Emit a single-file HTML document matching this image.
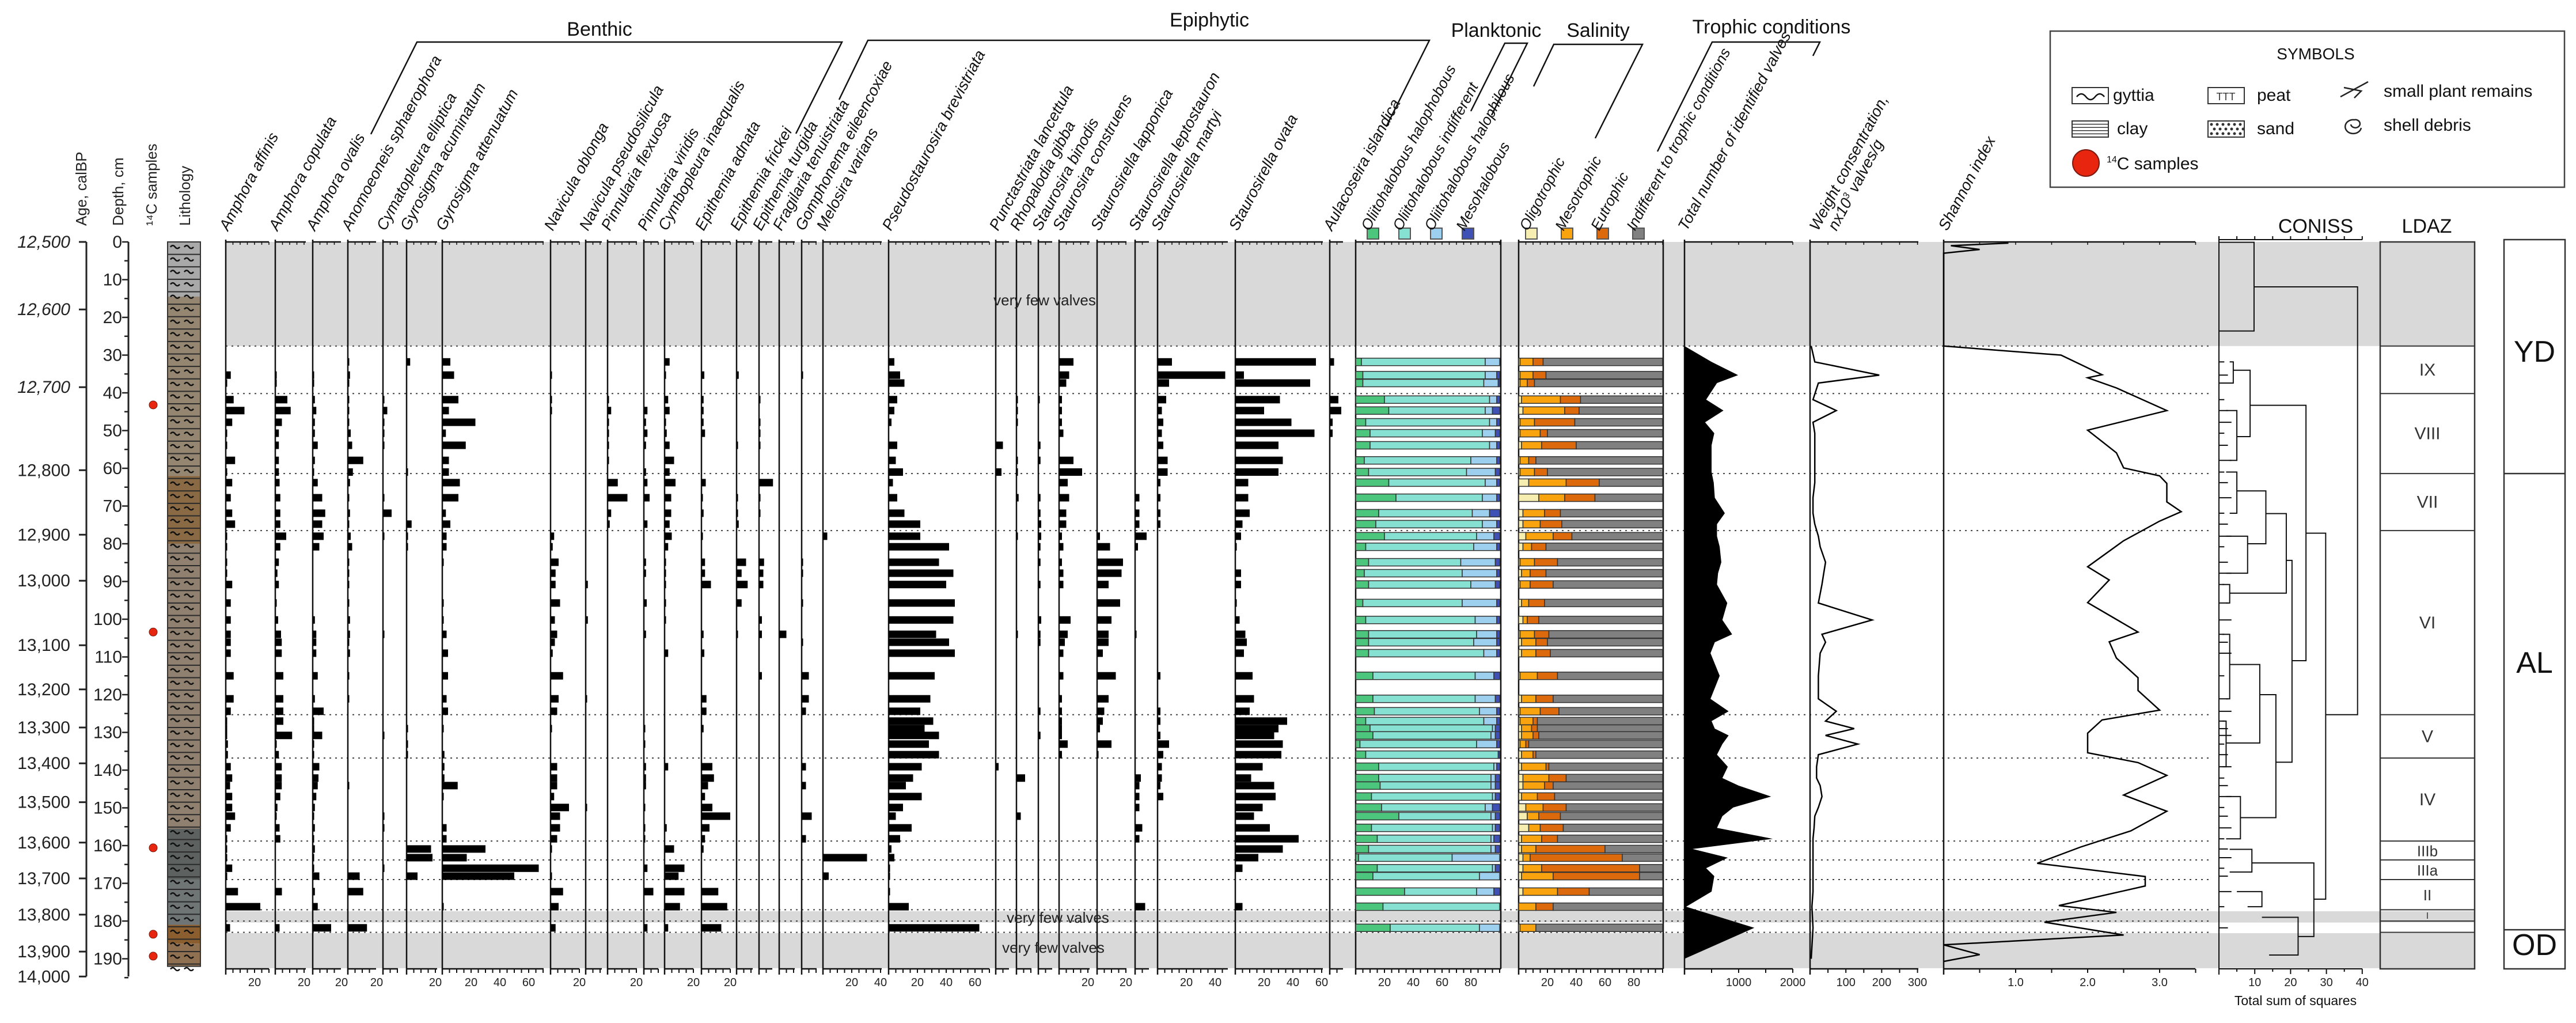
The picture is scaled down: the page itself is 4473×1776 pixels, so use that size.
<!DOCTYPE html>
<html><head><meta charset="utf-8"><title>Diatom diagram</title>
<style>
html,body{margin:0;padding:0;background:#fff;}
svg{display:block;font-family:"Liberation Sans",sans-serif;}
</style></head>
<body>
<svg id="chart" width="4473" height="1776" viewBox="0 0 4473 1776" xmlns="http://www.w3.org/2000/svg"></svg>
<script>
// ---------- DATA ----------
const sampleDepths=[31.8,35.3,37.4,41.8,44.7,47.8,50.7,53.9,57.9,61.0,63.8,67.8,71.9,74.8,78.0,80.8,84.9,87.8,90.8,95.7,100.2,104.0,106.1,109.0,115.0,121.1,124.4,127.0,129.0,130.8,133.1,135.9,139.1,142.1,144.1,147.0,149.9,152.2,155.3,158.2,160.9,163.2,166.0,168.1,172.2,176.2,181.8];
const taxaNames=["Amphora affinis","Amphora copulata","Amphora ovalis","Anomoeoneis sphaerophora","Cymatopleura elliptica","Gyrosigma acuminatum","Gyrosigma attenuatum","Navicula oblonga","Navicula pseudosilicula","Pinnularia flexuosa","Pinnularia viridis","Cymbopleura inaequalis","Epithemia adnata","Epithemia frickei","Epithemia turgida","Fragilaria tenuistriata","Gomphonema eileencoxiae","Melosira varians","Pseudostaurosira brevistriata","Punctastriata lancettula","Rhopalodia gibba","Staurosira binodis","Staurosira construens","Staurosirella lapponica","Staurosirella leptostauron","Staurosirella martyi","Staurosirella ovata","Aulacoseira islandica"];
const taxaTicks=[[20],[20],[20],[20],[],[20],[20,40,60],[20],[],[20],[],[20],[20],[],[],[],[],[20,40],[20,40,60],[],[],[],[20],[20],[],[20,40],[20,40,60],[]];
const vAffinis=[0,3.5,1,5.5,13,4.5,1,1,6.5,1,4.5,3.5,4.5,6.5,1,1,1,1,4.5,3.5,3.5,3.5,3.5,3.5,5.5,5.5,3.5,1,1,1,1.5,1.5,3.5,4.5,3,4.5,4.5,6.5,3.5,1,1,1,4.5,1,8.5,24,3];
const vCopulata=[0,0.5,1,8.4,10.7,4.6,2.5,2.5,2.5,2.5,3,3.5,3.5,3.5,7.6,3.5,2.5,1.5,2.5,0.5,2,4,4.5,4.5,5.6,5.6,5.6,5.6,1,11.7,1,2.5,4.5,4.5,4.5,3.5,1.5,0.5,3,3.5,0,0,0,0,4.6,0,3];
const vOvalis=[0,1,0.5,1.5,2.5,1.5,1.5,3.5,1.5,0.5,3.5,6.6,8.7,6.6,7.6,4.6,0,0,0,0,1.5,2.5,2.5,2.5,3.5,1.5,7.6,1,0.5,6.6,0.5,0.5,4.6,4,3.5,2.5,1.5,0.5,1.5,0.5,1.5,0.5,0.5,4.6,1.5,3.5,12.8];
const vAnomoeoneis=[1,1.5,0.5,1,0.5,1,2,3,10.7,3.5,1.5,1,1.5,0.5,2,3,0.5,0.5,0.5,0.5,1.5,1.5,1,1.5,0.5,0.5,0,0,0,0,0,0,0,0,1,0,0,0,0,0,0,0,0,8.2,10.7,0,13.3];
const vCymatopleura=[0,0,0,0.5,3,0.5,0.5,0.5,0,0,0,1,6,0,1,0,0,0,0,0,0,1,0,0,0,0,0,0,0,0.8,0,0,0,0,0,0,0,1,1,0,0,0,1,0,0,0,0];
const vGyrAcum=[2.5,0,0,0,0,0,0,0,0,1,0,0,0,3.5,1,1,0,0,0,0,0,0,0,0,0,0,0,0,1,0,1,1,0,0,0,0,0,0,0,0,17,18,0,7.6,0,0,0];
const vGyrAtten=[5.6,8.2,0,11.2,4.6,23,2.5,16.3,4.6,4.6,12.2,11.2,2.5,5.6,3,3,1,0,0,1,1,3,0,4,4,3,4,0,1,0,0,1.5,1.5,1.5,10.7,1,0,0,3,3,30,17,67,50,0,1,0];
const vNavOblonga=[0,1,0,1,1,0,0,0,0,0,0,0,0,0,2.5,1.5,5.6,3.5,3.5,6.6,3,4.6,3,1.5,8.7,5.6,4.6,0,1,0,0,0,4.6,4.6,4.6,2.5,12.8,6.6,6.6,4.6,1,0,0,1,8.7,5.6,3.5];
const vNavPseudo=[0,0,0,0,0,0,0,0,0,0,0,0,0,0,0,0,0,0,1.5,0,1.5,0,0,0,0,1,0,0,0,0,0,0,0,0,0,0,1,0,0,0,0,0,0,0,0,0,0];
const vPinFlex=[0,0,0,1,2.5,1,1,1,1,0,7.1,13.8,2.5,1.5,0,0,0,0,0,0,0,0,0,0,0,0,0,0,0,0,0,0,0,0,0,0,0,0,0,0,0,0,0,0,0,0,0];
const vPinViridis=[0,0,0,0,2.5,1.5,2.5,1.5,0,1.5,2.5,4,0,2.5,0,0,1.5,1.5,0,2,0,1.5,0,0,0,0,0,0,1,0,1,0,1.5,1.5,1.5,0,1,0,1,1,0,0,2.5,0,6.6,0,2.5];
const vCymbopleura=[3.5,1,0,2.5,3.5,1,1.5,3.5,6.6,3.5,7.6,4.6,4.6,3.5,5,2.5,1,1,1,1,1,0,0,2.5,0,0,0,0,0,0,0,0,2.5,0,0,0,0,0,1.5,0,6.6,0,13.8,9.7,13.8,10.7,2.5];
const vEpiAdnata=[0,2,0,1.5,1.5,1.5,2.5,0,0,0,3,1,1.5,0,1,0,2.5,2.5,6.6,0,0,1.5,0,2,0,3.5,3.5,0,1.5,0,0,0,7.6,8.7,4.6,2.5,7.6,20,5.6,2.5,1.5,0,0,0,11.7,17.9,13.8];
const vEpiFrickei=[0,1.5,0,0,0,0,0,1,0,0,0,1,1,1.5,0,0,6.6,3.5,7.7,3.5,0,1,0,0,0,0,0,0,0,0,0,0,0,0,0,0,0,0,0,0,0,0,0,0,0,0,0];
const vEpiTurgida=[0,0,0,1,0,1,1,1,0,0,9.7,1,1,0,0,0,3.5,3,3,0,2,2,0,0,2,0,0,0,0,0,0,0,0,0,0,0,0,0,0,0,0,0,0,0,0,0,0];
const vFragilaria=[0,0,0,0,0,0,0,0,0,0,0,0,0,0,0,0,0,0,0,0,0,5,0,0,0,0,0,0,0,0,0,0,0,0,0,0,0,0,0,0,0,0,0,0,0,0,0];
const vGomphonema=[0,1,0,0,0,0,0,0,0,0,0,0,0,0,0,0,1,1,0,1,0,0,1,0,5,5,3,0,0,0,0,0,3,0,3,0,0,7,0,3,0,0,0,0,0,0,0];
const vMelosira=[0,0,0,0,0,0,0,0,0,0,0,0,0,0,3,0,0,0,0,0,0,0,0,0,0,0,0,0,0,0,0,0,0,0,0,0,0,0,0,0,0,30.6,0,4,0,0,0];
const vPseudostaurosira=[4,8,11,6,4,2,0,6,5,10,3,6,11,22,22,42,35,45,40,46,45,33,42,46,32,29,22,31,25,35,28,35,23,17,12,23,10,5,16,8,2,4,1,1,1,14,63];
const vPunctastriata=[0,0,0,0,0,0,0,5,0,4,0,0,0,0,0,0,0,0,0,0,0,0,0,0,0,0,0,0,0,0,0,0,2,0,0,0,0,0,0,0,0,0,0,0,0,0,0];
const vRhopalodia=[0,0,0,1,1,1,0,0,1,1,0,1.5,0,0,1,0,0,0,0,0,0,1,0,0,0,0,0,0,0,0,0,0,0,6,0,0,0,3,0,0,0,0,0,0,0,0,0];
const vStBinodis=[0,0,0,1,0,0,0,1.5,1.5,0,0,1.5,1.5,2,2,1.5,1.5,0,1.5,0,2,1.5,1.5,0,0,0,1.5,0,0,1.5,0,0,0,0,0,0,0,0,0,0,0,0,0,0,0,0,0];
const vStConstruens=[10,7,5,2,2,2,3,0,10,16,6,7,5,5,2,3,2,3,3,0,8,6,4,3,3,2,2,2,2,2,6,2,0,0,0,0,0,0,0,0,0,0,0,0,0,0,0];
const vStlLapponica=[0,0,0,0,0,0,0,0,0,0,0,0,0,0,2,9,18,17,8,16,10,8,8,4,13,8,5,4,2,0,10,1,0,0,0,0,0,0,0,0,0,0,0,0,0,0,0];
const vStlLepto=[0,0,0,0,0,0,0,0,0,0,0,3,3,3,8,2,0,0,0,0,0,1,0,0,0,0,0,0,0,0,0,0,0,4,3,3,3,0,5,3,0,0,0,0,0,7,0];
const vStlMartyi=[10,47,8,6,3,4,3,4,7,7,2,2,2,2,0,0,0,0,0,0,0,0,0,0,2,0,2,2,0,2,8,4,3,3,2,4,0,0,0,0,0,0,0,0,0,0,0];
const vStlOvata=[56,6,52,31,20,39,55,30,33,30,9,9,10,5,4,1,0,4,4,1,3,7,8,6,12,13,10,36,30,27,33,32,19,11,27,28,19,13,24,44,33,16,5,0,0,5,0];
const vAulacoseira=[3,0,0,6,8,2,2,0,0,0,0,0,0,0,0,0,0,0,0,0,0,0,0,0,0,0,0,0,0,0,0,0,0,0,0,0,0,0,0,0,0,0,0,0,0,0,0];
const taxaValues=[vAffinis,vCopulata,vOvalis,vAnomoeoneis,vCymatopleura,vGyrAcum,vGyrAtten,vNavOblonga,vNavPseudo,vPinFlex,vPinViridis,vCymbopleura,vEpiAdnata,vEpiFrickei,vEpiTurgida,vFragilaria,vGomphonema,vMelosira,vPseudostaurosira,vPunctastriata,vRhopalodia,vStBinodis,vStConstruens,vStlLapponica,vStlLepto,vStlMartyi,vStlOvata,vAulacoseira];
const salHalophobous=[4,5,5,20,23,7,10,10,6,9,23,28,16,14,20,7,9,6,9,5,7,9,9,9,12,12,13,7,10,12,3,7,16,16,17,11,18,30,11,15,9,2,15,12,34,19,24];
const salHalophilous=[10,8,10,5,5,5,9,5,18,20,8,10,12,10,12,16,24,24,17,24,15,14,16,9,13,14,12,9,2,3,14,0,2,3,3,2,5,3,2,2,3,33,2,14,12,0,14];
const salMesohalobous=[0,2,1,2,5,2,3,2,2,3,2,2,7,2,4,2,3,2,3,2,2,2,2,2,4,3,2,2,3,3,2,1,2,3,3,3,5,3,3,4,3,0,3,0,4,0,0];
const troOligo=[1,1,1,2,3,1,1,2,1,1,7,14,3,3,5,3,1,2,1,2,3,1,2,2,1,2,1,1,2,2,1,2,2,3,3,2,5,6,7,2,2,3,3,2,3,0,1];
const troMeso=[9,9,5,27,29,10,14,14,6,10,26,18,15,12,19,6,10,6,7,5,3,10,10,10,12,10,14,9,7,8,4,8,17,18,15,11,12,8,8,14,10,5,13,22,24,12,11];
const troEu=[7,9,5,14,10,28,5,24,5,9,23,21,11,15,13,10,16,11,16,11,8,10,8,10,14,12,13,3,4,4,2,2,2,12,6,12,16,15,16,11,48,64,68,60,22,12,0];
const totalValves=[500,990,600,400,720,380,550,500,500,500,540,560,745,600,600,650,680,620,600,790,700,880,560,480,650,480,815,500,560,815,700,600,800,700,1000,1600,900,700,600,1630,150,800,400,550,500,30,1290];
const weightConc=[10,190,20,5,70,5,10,10,10,10,10,5,5,10,20,25,40,35,30,20,170,30,40,25,20,20,70,40,120,40,130,20,15,15,25,30,20,10,8,5,5,5,5,5,5,2,5];
const shannonDepths=[0.3,1,2,3,27.6,30.0,35.2,36.0,38.7,44.7,49.9,55.9,59.9,62.0,64.0,68.9,71.5,74.0,79.2,86.1,89.6,95.6,103.4,106.0,110.3,115.5,118.9,124.1,126.7,130.2,135.4,138.0,141.4,146.6,150.9,156.1,160.4,164.7,168.2,170.7,175.9,177.7,180.3,183.7,186.3,188.9,190.7];
const shannonValues=[0.9,0.1,0.5,0,0,1.63,2.2,2.0,2.4,3.1,2.0,2.4,2.5,3.0,3.1,3.1,3.3,3.0,2.5,2.0,2.3,2.0,2.7,2.3,2.4,2.7,2.7,3.0,2.2,2.0,2.0,2.7,3.1,2.5,3.1,2.6,1.9,1.3,2.8,2.8,1.6,2.4,1.4,2.5,0,0.5,0];
const ageLabels=["12,500","12,600","12,700","12,800","12,900","13,000","13,100","13,200","13,300","13,400","13,500","13,600","13,700","13,800","13,900","14,000"];
const ageDepths=[0,17.9,38.5,60.5,77.6,89.8,106.9,118.6,128.7,138.2,148.5,159.2,168.7,178.3,188.1,194.7];
const depthTicks=[0,10,20,30,40,50,60,70,80,90,100,110,120,130,140,150,160,170,180,190];
const zoneBounds=[27.6,40.2,61.4,76.5,125.3,136.8,158.8,163.8,169,177,180,183];
const zoneNames=["IX","VIII","VII","VI","V","IV","IIIb","IIIa","II","I"];
const c14Depths=[43.2,103.4,160.6,183.5,189.3];
const conissNodes=[[0.1,0,23.6,0,9.8],[11.9,9.8,125.3,29.8,38.7],[77.2,24.3,174.2,26.5,29.8],[43.3,8.7,111,20.4,24.3],[31.8,3,37.4,2,4],[34,4,51.6,5,8.7],[44.7,2,57.9,3,5],[84.4,18.8,137.9,15.9,20.4],[72,13.1,93.1,3,18.8],[66,5,80,8,13.1],[61,2,71.9,3,5],[78,2,87.8,2,8],[90.8,1,95.7,2,3],[120,11.4,152.6,6,15.9],[112,3,132.8,2,11.4],[104,1,121.1,2,3],[127,1,139.1,1,2],[147,2,158.2,2,6],[164.6,9.2,184.1,22.1,26.5],[161,3,167,3,9.2],[179,12,189,14,22.1],[172.2,5,176.2,8,12]];

// ---------- HELPERS ----------
const svg=document.getElementById('chart');
const NS='http://www.w3.org/2000/svg';
const ANG=-62;
function yOf(d){return 420+6.55*d;}
function mk(tag,attrs,parent){const e=document.createElementNS(NS,tag);for(const k in attrs)e.setAttribute(k,attrs[k]);(parent||svg).appendChild(e);return e;}
function txt(s,attrs,parent){const e=mk('text',attrs,parent);e.textContent=s;return e;}

const colX=[[392,467],[478,531],[543,592],[604,653],[665,691],[706,759],[768,944],[956,1006],[1017,1045],[1055,1106],[1118,1143],[1154,1204],[1218,1268],[1279,1307],[1318,1341],[1353,1380],[1392,1418],[1429,1531],[1543,1718],[1729,1752],[1765,1791],[1803,1827],[1839,1892],[1905,1956],[1971,1995],[2010,2132],[2145,2297],[2309,2332]];
const PX=2.5;
const TOP=420,BOT=1682;

// ---------- BACKGROUND BANDS ----------
const bands=mk('g',{});


[[0,27.6],[177.4,180.4],[183.2,192.5]].forEach(b=>{
  const r=mk('rect',{x:392,y:yOf(b[0]),width:4297-392,height:yOf(b[1])-yOf(b[0]),fill:'#d9d9d9'},bands);
  
  
});

const dots=mk('g',{stroke:'#444','stroke-width':2,'stroke-dasharray':'3 7'});


zoneBounds.forEach(z=>{
  const l=mk('line',{x1:392,x2:3841,y1:yOf(z),y2:yOf(z)},dots);
  
  
});

// ---------- LEFT AXES ----------
const ageAx=mk('g',{});


mk('line',{x1:150,x2:150,y1:yOf(0),y2:yOf(194.7),stroke:'#222','stroke-width':3},ageAx);
ageLabels.forEach((a,i)=>{
  const y=yOf(ageDepths[i]);
  mk('line',{x1:137,x2:150,y1:y,y2:y,stroke:'#222','stroke-width':3},ageAx);
  const t=txt(a,{x:122,y:y+10,'font-size':30,'text-anchor':'end',fill:'#222','font-style':i<3?'italic':'normal'},ageAx);
  
  
});
const depAx=mk('g',{});


mk('line',{x1:223,x2:223,y1:yOf(0),y2:yOf(194.7),stroke:'#222','stroke-width':3},depAx);
for(let d=0;d<=195;d+=5){mk('line',{x1:d%10?216:212,x2:223,y1:yOf(d),y2:yOf(d),stroke:'#222','stroke-width':2.5},depAx);}
depthTicks.forEach(d=>{
  const t=txt(String(d),{x:212,y:yOf(d)+10,'font-size':30,'text-anchor':'end',fill:'#222'},depAx);
  
  
});
c14Depths.forEach(d=>{
  const c=mk('circle',{cx:266,cy:yOf(d),r:7,fill:'#e8260f',stroke:'#7a1a10','stroke-width':1});
  
  
});
const lith=mk('g',{});


[[0,14.5,'#a9a9a9'],[14.5,62,'#958672'],[62,80,'#8a6a45'],[80,155.5,'#8f8070'],[155.5,169,'#5d6261'],[169,181,'#6f7474'],[181,186,'#8b5e30'],[186,192,'#8f7050']].forEach(L=>{
  mk('rect',{x:291,y:yOf(L[0]),width:57,height:yOf(L[1])-yOf(L[0]),fill:L[2]},lith);
});
for(let d=0;d<192;d+=3.3){
  mk('line',{x1:291,x2:348,y1:yOf(d),y2:yOf(d),stroke:'#2a2a2a','stroke-width':2},lith);
  const yc=yOf(d+1.65);
  [303,327].forEach(x=>mk('path',{d:`M${x-7},${yc-2} q4,-5 8,0 t8,0`,fill:'none',stroke:'#111','stroke-width':2.5},lith));
}
mk('rect',{x:291,y:yOf(0),width:57,height:yOf(192)-yOf(0),fill:'none',stroke:'#333','stroke-width':2},lith);

[['Age, calBP',150],['Depth, cm',214],['¹⁴C samples',272],['Lithology',330]].forEach(h=>{
  const t=txt(h[0],{x:0,y:0,'font-size':26,fill:'#222',transform:`translate(${h[1]},392) rotate(-90)`});
  
  
});

function columnAxes(g,x0,x1,ticks,scale,step,fmt){
  mk('line',{x1:x0,x2:x0,y1:TOP-4,y2:BOT+10,stroke:'#111','stroke-width':2.5},g);
  mk('line',{x1:x0,x2:x1,y1:TOP,y2:TOP,stroke:'#111','stroke-width':2.5},g);
  mk('line',{x1:x0,x2:x1,y1:BOT,y2:BOT,stroke:'#111','stroke-width':2.5},g);
  for(let x=x0;x<=x1+0.5;x+=step){
    mk('line',{x1:x,x2:x,y1:BOT,y2:BOT+7,stroke:'#111','stroke-width':2},g);
    mk('line',{x1:x,x2:x,y1:TOP,y2:TOP+5,stroke:'#111','stroke-width':1.5},g);
  }
  ticks.forEach(v=>{
    const t=txt(fmt?fmt(v):String(v),{x:x0+v*scale,y:1712,'font-size':20,'text-anchor':'middle',fill:'#222'},g);
    
    
  });
}
function headLabel(s,x,parent,size){
  return txt(s,{x:0,y:0,'font-size':size||27,'font-style':'italic',fill:'#111',transform:`translate(${x},402) rotate(${ANG})`},parent);
}

// ---------- TAXA ----------
taxaNames.forEach((name,i)=>{
  const g=mk('g',{});
  
  
  const x0=colX[i][0],x1=colX[i][1];
  columnAxes(g,x0,x1,taxaTicks[i],PX,12.5);
  const lab=headLabel(name,x0+4,g);
  
  
  const vals=taxaValues[i];
  sampleDepths.forEach((d,j)=>{
    const v=vals[j]||0;
    if(v<=0)return;
    const r=mk('rect',{x:x0,y:yOf(d)-6.5,width:Math.max(v*PX,2.5),height:13,fill:'#000'},g);
    
    
  });
});

// ---------- SALINITY ----------
(function(){
  const g=mk('g',{});
  
  
  const x0=2354,x1=2606,colors=['#4cc57d','#87e1d3','#9dcfee','#3f51b5'];
  columnAxes(g,x0,x1,[20,40,60,80],PX,12.5);
  mk('line',{x1:x1,x2:x1,y1:TOP-4,y2:BOT,stroke:'#111','stroke-width':2.5},g);
  ['Oliitohalobous halophobous','Oliitohalobous indifferent','Oliitohalobous halophilous','Mesohalobous'].forEach((l,k)=>{
    const lx=x0+30+k*55;
    const sw=mk('rect',{x:lx-10,y:396,width:20,height:19,fill:colors[k],stroke:'#555','stroke-width':2},g);
    
    
    const t=headLabel(l,lx-6,g,26);
    
    
  });
  sampleDepths.forEach((d,j)=>{
    const a=salHalophobous[j]||0,c=salHalophilous[j]||0,m=salMesohalobous[j]||0;
    const vals=[a,100-a-c-m,c,m];
    let acc=0;
    vals.forEach((v,k)=>{
      if(v<=0)return;
      const r=mk('rect',{x:x0+acc*PX,y:yOf(d)-6.5,width:v*PX,height:13,fill:colors[k],stroke:'#333','stroke-width':1.5},g);
      
      
      acc+=v;
    });
  });
})();

// ---------- TROPHIC ----------
(function(){
  const g=mk('g',{});
  
  
  const x0=2637,x1=2888,colors=['#f6eeb0','#f9a30f','#dc6a0c','#808080'];
  columnAxes(g,x0,x1,[20,40,60,80],PX,12.5);
  mk('line',{x1:x1,x2:x1,y1:TOP-4,y2:BOT,stroke:'#111','stroke-width':2.5},g);
  ['Oligotrophic','Mesotrophic','Eutrophic','Indifferent to trophic conditions'].forEach((l,k)=>{
    const lx=x0+22+k*62;
    const sw=mk('rect',{x:lx-10,y:396,width:20,height:19,fill:colors[k],stroke:'#555','stroke-width':2},g);
    
    
    const t=headLabel(l,lx-6,g,26);
    
    
  });
  sampleDepths.forEach((d,j)=>{
    const o=troOligo[j]||0,m=troMeso[j]||0,e=troEu[j]||0;
    const vals=[o,m,e,100-o-m-e];
    let acc=0;
    vals.forEach((v,k)=>{
      if(v<=0)return;
      const r=mk('rect',{x:x0+acc*PX,y:yOf(d)-6.5,width:v*PX,height:13,fill:colors[k],stroke:'#333','stroke-width':1.5},g);
      
      
      acc+=v;
    });
  });
})();

// ---------- TOTAL VALVES ----------
(function(){
  const g=mk('g',{});
  
  
  const x0=2925,sc=0.094;
  columnAxes(g,x0,3113,[1000,2000],sc,47);
  const t=headLabel('Total number of identified valves',x0+4,g);
  
  
  let pts=[[x0,yOf(27.6)]];
  sampleDepths.forEach((d,j)=>pts.push([x0+totalValves[j]*sc,yOf(d)]));
  pts.push([x0,yOf(190)]);
  const p=mk('polygon',{points:pts.map(p=>p.join(',')).join(' '),fill:'#000'},g);
  
  
})();

// ---------- WEIGHT CONCENTRATION ----------
(function(){
  const g=mk('g',{});
  
  
  const x0=3145,sc=0.622;
  columnAxes(g,3143,3331,[100,200,300],sc,31.1);
  const t1=headLabel('Weight consentration,',x0+12,g);
  
  
  const t2=txt('',{x:0,y:0,'font-size':27,'font-style':'italic',fill:'#111',transform:`translate(${x0+44},402) rotate(${ANG})`},g);
  t2.innerHTML='nx10<tspan dy="-9" font-size="16">3</tspan><tspan dy="9"> valves/g</tspan>';
  
  
  let pts=[[x0,yOf(27.6)]];
  sampleDepths.forEach((d,j)=>pts.push([x0+weightConc[j]*sc,yOf(d)]));
  pts.push([x0,yOf(190)]);
  const p=mk('polyline',{points:pts.map(p=>p.join(',')).join(' '),fill:'none',stroke:'#000','stroke-width':2.5},g);
  
  
})();

// ---------- SHANNON ----------
(function(){
  const g=mk('g',{});
  
  
  const x0=3375,sc=125;
  columnAxes(g,x0,3812,[1,2,3],sc,62.5,v=>v.toFixed(1));
  const t=headLabel('Shannon index',x0+6,g);
  
  
  const pts=shannonDepths.map((d,j)=>[x0+shannonValues[j]*sc,yOf(d)]);
  const p=mk('polyline',{points:pts.map(p=>p.join(',')).join(' '),fill:'none',stroke:'#000','stroke-width':2.5},g);
  
  
})();

// ---------- CONISS ----------
(function(){
  const g=mk('g',{stroke:'#111','stroke-width':2,fill:'none'});
  
  
  const x0=3853,sc=6.22;
  mk('line',{x1:x0,x2:x0,y1:416,y2:BOT+10},g);
  mk('line',{x1:x0,x2:4102,y1:416,y2:416},g);
  mk('line',{x1:x0,x2:4102,y1:BOT,y2:BOT},g);
  for(let v=0;v<=40;v+=5){mk('line',{x1:x0+v*sc,x2:x0+v*sc,y1:BOT,y2:BOT+(v%10?5:9)},g);mk('line',{x1:x0+v*sc,x2:x0+v*sc,y1:416,y2:410},g);}
  [10,20,30,40].forEach(v=>{
    const t=txt(String(v),{x:x0+v*sc,y:1712,'font-size':20,'text-anchor':'middle',fill:'#222',stroke:'none'},g);
    
    
  });
  sampleDepths.forEach((d,j)=>{
    const l=mk('line',{x1:x0,x2:x0+(1.5+(j%3))*sc,y1:yOf(d),y2:yOf(d)},g);
    
    
  });
  conissNodes.forEach(n=>{
    const p=mk('path',{d:`M${x0+n[1]*sc},${yOf(n[0])} H${x0+n[4]*sc} V${yOf(n[2])} H${x0+n[3]*sc}`},g);
    
    
  });
  const t=txt('CONISS',{x:4021,y:404,'font-size':34,'text-anchor':'middle',fill:'#111',stroke:'none'},g);
  
  
  const t2=txt('Total sum of squares',{x:3986,y:1745,'font-size':23,'text-anchor':'middle',fill:'#111',stroke:'none'},g);
  
  
})();

// ---------- LDAZ ----------
(function(){
  const g=mk('g',{});
  
  
  mk('rect',{x:4133,y:yOf(0),width:164,height:BOT-yOf(0),fill:'none',stroke:'#333','stroke-width':2.5},g);
  zoneBounds.forEach(z=>mk('line',{x1:4133,x2:4297,y1:yOf(z),y2:yOf(z),stroke:'#333','stroke-width':2},g));
  zoneNames.forEach((n,i)=>{
    const ym=(yOf(zoneBounds[i])+yOf(zoneBounds[i+1]))/2;
    const t=txt(n,{x:4215,y:ym+(i===9?6:10),'font-size':i>=6?(i===9?16:26):30,'text-anchor':'middle',fill:'#333'},g);
    
    
  });
  const t=txt('LDAZ',{x:4214,y:404,'font-size':34,'text-anchor':'middle',fill:'#111'},g);
  
  
})();

// ---------- CHRONOZONES ----------
(function(){
  const g=mk('g',{});
  
  
  mk('rect',{x:4348,y:416,width:106,height:BOT-416,fill:'#fff',stroke:'#333','stroke-width':2.5},g);
  mk('line',{x1:4348,x2:4454,y1:yOf(61.4),y2:yOf(61.4),stroke:'#333','stroke-width':2.5},g);
  mk('line',{x1:4348,x2:4454,y1:yOf(182.3),y2:yOf(182.3),stroke:'#333','stroke-width':2.5},g);
  [['YD',628],['AL',1168],['OD',1658]].forEach(c=>{
    const t=txt(c[0],{x:4401,y:c[1],'font-size':52,'text-anchor':'middle',fill:'#111'},g);
    
    
  });
})();

[[1814,530],[1837,1602],[1829,1654]].forEach(p=>{
  const t=txt('very few valves',{x:p[0],y:p[1],'font-size':26,'text-anchor':'middle',fill:'#222'});
  
  
});

// ---------- GROUP BRACKETS ----------
const br=mk('g',{stroke:'#111','stroke-width':2.5,fill:'none'});


[
 ['M644,233 L724,73 H1462 L1382,232','Benthic',1041,62],
 ['M1457,173 L1507,70 H2482 L2407,220','Epiphytic',2100,46],
 ['M2554,193 L2613,75 H2652 L2590,200','Planktonic',2598,64],
 ['M2663,150 L2698,77 H2852 L2770,240','Salinity',2775,64],
 ['M2878,263 L2973,73 H3160 L3148,97','Trophic conditions',3076,58]
].forEach(b=>{
  const p=mk('path',{d:b[0]},br);
  
  
  const t=txt(b[1],{x:b[2],y:b[3],'font-size':34,'text-anchor':'middle',fill:'#111',stroke:'none'},br);
  
  
});

// ---------- SYMBOLS LEGEND ----------
(function(){
  const g=mk('g',{});
  
  
  mk('rect',{x:3560,y:54,width:893,height:271,fill:'#fff',stroke:'#444','stroke-width':2.5},g);
  const tt=txt('SYMBOLS',{x:4021,y:103,'font-size':28,'text-anchor':'middle',fill:'#111'},g);
  
  
  mk('rect',{x:3598,y:152,width:63,height:28,fill:'#fff',stroke:'#333','stroke-width':2},g);
  mk('path',{d:'M3606,168 q8,-10 16,0 t16,0 t16,0',fill:'none',stroke:'#111','stroke-width':2.5},g);
  mk('rect',{x:3598,y:210,width:63,height:28,fill:'#fff',stroke:'#333','stroke-width':2},g);
  for(let k=1;k<5;k++)mk('line',{x1:3598,x2:3661,y1:210+k*5.6,y2:210+k*5.6,stroke:'#333','stroke-width':1.5},g);
  mk('rect',{x:3834,y:152,width:63,height:28,fill:'#fff',stroke:'#333','stroke-width':2},g);
  txt('TTT',{x:3865,y:174,'font-size':18,'text-anchor':'middle',fill:'#333'},g);
  mk('rect',{x:3834,y:210,width:63,height:28,fill:'#fff',stroke:'#333','stroke-width':2},g);
  for(let a=0;a<6;a++)for(let b=0;b<3;b++)mk('circle',{cx:3840+a*10+(b%2)*5,cy:216+b*8,r:2.5,fill:'#333'},g);
  mk('path',{d:'M4064,168 L4112,142 M4070,152 L4100,158 L4088,170',fill:'none',stroke:'#222','stroke-width':2.5},g);
  mk('path',{d:'M4100,222 a14,12 0 1 1 -12,-14 a8,7 0 1 1 -6,8',fill:'none',stroke:'#222','stroke-width':2.5},g);
  mk('circle',{cx:3622,cy:283,r:23,fill:'#e8260f',stroke:'#7a1a10','stroke-width':2},g);
  [['gyttia',3669,175],['clay',3676,233],['peat',3919,175],['sand',3919,233],['small plant remains',4139,168],['shell debris',4139,227]].forEach(l=>{
    const t=txt(l[0],{x:l[1],y:l[2],'font-size':30,fill:'#111'},g);
    
    
  });
  const c=txt('',{x:3658,y:294,'font-size':30,fill:'#111'},g);
  c.innerHTML='<tspan font-size="16" dy="-12">14</tspan><tspan dy="12">C samples</tspan>';
  
  
})();
</script>
</body></html>
